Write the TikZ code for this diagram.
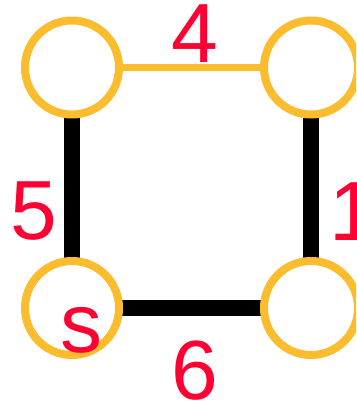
\documentclass[tikz,border=0pt]{standalone}
\usepackage{fontspec}
\setmainfont{Liberation Sans}
\usetikzlibrary{backgrounds}
\definecolor{ring}{HTML}{FBBC2E}
\definecolor{lab}{HTML}{FF0033}
\begin{document}
\begin{tikzpicture}[x=1pt,y=-1pt,
  vert/.style={circle, draw=ring, line width=8pt, minimum size=94pt, inner sep=0pt, outer sep=0pt},
  lbl/.style={text=lab, font=\fontsize{84}{84}\selectfont, inner sep=0pt},
  heavyedge/.style={line width=16pt, draw=black},
  lightedge/.style={line width=7pt, draw=ring}]
\useasboundingbox (0,0) rectangle (356,406);
\clip (0,0) rectangle (356,406);
\node[vert] (tl) at (72,67.5) {};
\node[vert] (tr) at (311,67.5) {};
\node[vert] (bl) at (72,308) {};
\node[vert] (br) at (311,308) {};
\begin{scope}[on background layer]
  \draw[lightedge] (tl) -- (tr);
  \draw[heavyedge] (tl) -- (bl);
  \draw[heavyedge] (tr) -- (br);
  \draw[heavyedge] (bl) -- (br);
\end{scope}
\node[lbl] (w4) at (194.5,34) {4};
\node[lbl] (w6) at (194.5,371) {6};
\node[lbl] (w5) at (34,211.5) {5};
\node[lbl, anchor=west] (w1) at (329,212) {1};
\node[lbl] (s) at (81,330) {s};
\end{tikzpicture}
\end{document}
